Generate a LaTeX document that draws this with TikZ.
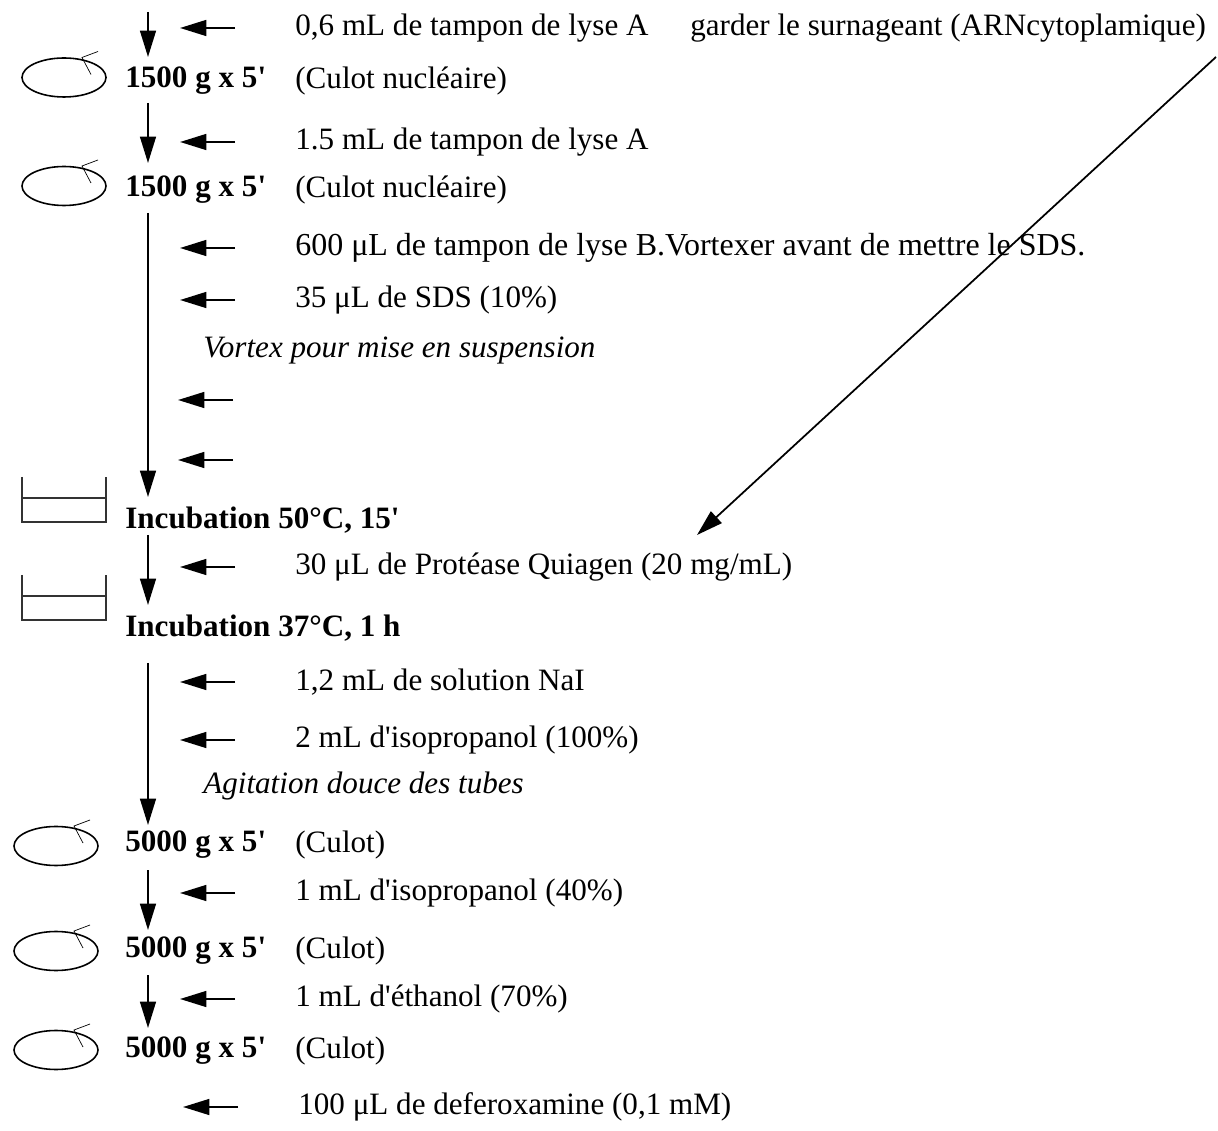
\documentclass[tikz,border=0pt]{standalone}
\usepackage{fontspec}
\setmainfont{Liberation Serif}
\usetikzlibrary{arrows.meta,calc}
\newcommand{\apos}{\textquotesingle}
\tikzset{
  flow/.style={-{Triangle[length=15pt,width=9pt]}, line width=1.2pt},
  txt/.style={anchor=west, inner sep=0pt},
  lbl/.style={txt, execute at begin node=\bfseries},
  note/.style={txt, execute at begin node=\itshape},
  rotor/.pic={
    \draw[line width=0.9pt] (0,0) ellipse [x radius=42, y radius=19.5];
    \draw[line width=0.4pt] (34,-26) -- (18,-20) -- (27,-3);
  },
  beaker/.pic={
    \draw[line width=0.6pt, black!80] (0,0) -- (0,45) -- (84,45) -- (84,0);
    \draw[line width=0.6pt, black!80] (0,21) -- (84,21);
  }
}
\begin{document}
\fontsize{17.7}{21}\selectfont
\begin{tikzpicture}[x=0.02cm, y=-0.02cm]
    \useasboundingbox (0,0) rectangle (1218,1131);
    % centrifugation and incubation steps
    \pic at (64,77.5) {rotor};
    \pic at (64,186) {rotor};
    \pic at (22,477) {beaker};
    \pic at (22,575) {beaker};
    \pic at (56,846) {rotor};
    \pic at (56,951) {rotor};
    \pic at (56,1050) {rotor};
    \node[lbl] (spin1) at (125,81) {1500 g x 5\apos};
    \node[lbl] (spin2) at (125,190) {1500 g x 5\apos};
    \node[lbl] (incub1) at (125,520) {Incubation 50°C, 15\apos};
    \node[lbl] (incub2) at (125,628) {Incubation 37°C, 1 h};
    \node[lbl] (spin3) at (125,845) {5000 g x 5\apos};
    \node[lbl] (spin4) at (125,951) {5000 g x 5\apos};
    \node[lbl] (spin5) at (125,1051) {5000 g x 5\apos};
    \node[txt] (pellet1) at (295,81) {(Culot nucléaire)};
    \node[txt] (pellet2) at (295,190) {(Culot nucléaire)};
    \node[txt] (pellet3) at (295,845) {(Culot)};
    \node[txt] (pellet4) at (295,951) {(Culot)};
    \node[txt] (pellet5) at (295,1051) {(Culot)};
    % reagents
    \node[txt] (add1) at (295,28) {0,6 mL de tampon de lyse A};
    \node[txt] (keep) at (690,28) {garder le surnageant (ARNcytoplamique)};
    \node[txt] (add2) at (295,142) {1.5 mL de tampon de lyse A};
    \node[txt, font=\fontsize{18.2}{22}\selectfont] (add3) at (295,248) {600 μL de tampon de lyse B.Vortexer avant de mettre le SDS.};
    \node[txt] (add4) at (295,300) {35 μL de SDS (10\%)};
    \node[note] (vortex) at (203,351) {Vortex pour mise en suspension};
    \node[txt] (add5) at (295,567) {30 μL de Protéase Quiagen (20 mg/mL)};
    \node[txt] (add6) at (295,682) {1,2 mL de solution NaI};
    \node[txt] (add7) at (295,740) {2 mL d\apos isopropanol (100\%)};
    \node[note] (shake) at (203,786) {Agitation douce des tubes};
    \node[txt] (add8) at (295,893) {1 mL d\apos isopropanol (40\%)};
    \node[txt] (add9) at (295,999) {1 mL d\apos éthanol (70\%)};
    \node[txt] (add10) at (298,1107) {100 μL de deferoxamine (0,1 mM)};
    % main line of the protocol
    \foreach \i/\a/\b in {1/12/57, 2/103/163, 3/213/497, 4/535/605, 5/663/825, 6/870/930, 7/975/1028} {
        \coordinate (up\i) at (148,\a);
        \coordinate (dn\i) at (148,\b);
        \draw[flow] (up\i) -- (dn\i);
    }
    % feeding arrows
    \foreach \n in {add1, add2, add3, add4, add5, add6, add7, add8, add9, add10}
        \draw[flow] ($(\n.west)+(-60,0)$) -- ($(\n.west)+(-115,0)$);
    \coordinate (feedA) at (233,400);
    \coordinate (feedB) at (233,460);
    \draw[flow] (feedA) -- ++(-55,0);
    \draw[flow] (feedB) -- ++(-55,0);
    % supernatant
    \coordinate (diagS) at (1216,57);
    \coordinate (diagE) at (697,535);
    \draw[flow, line width=1pt] (diagS) -- (diagE);
\end{tikzpicture}
\end{document}
